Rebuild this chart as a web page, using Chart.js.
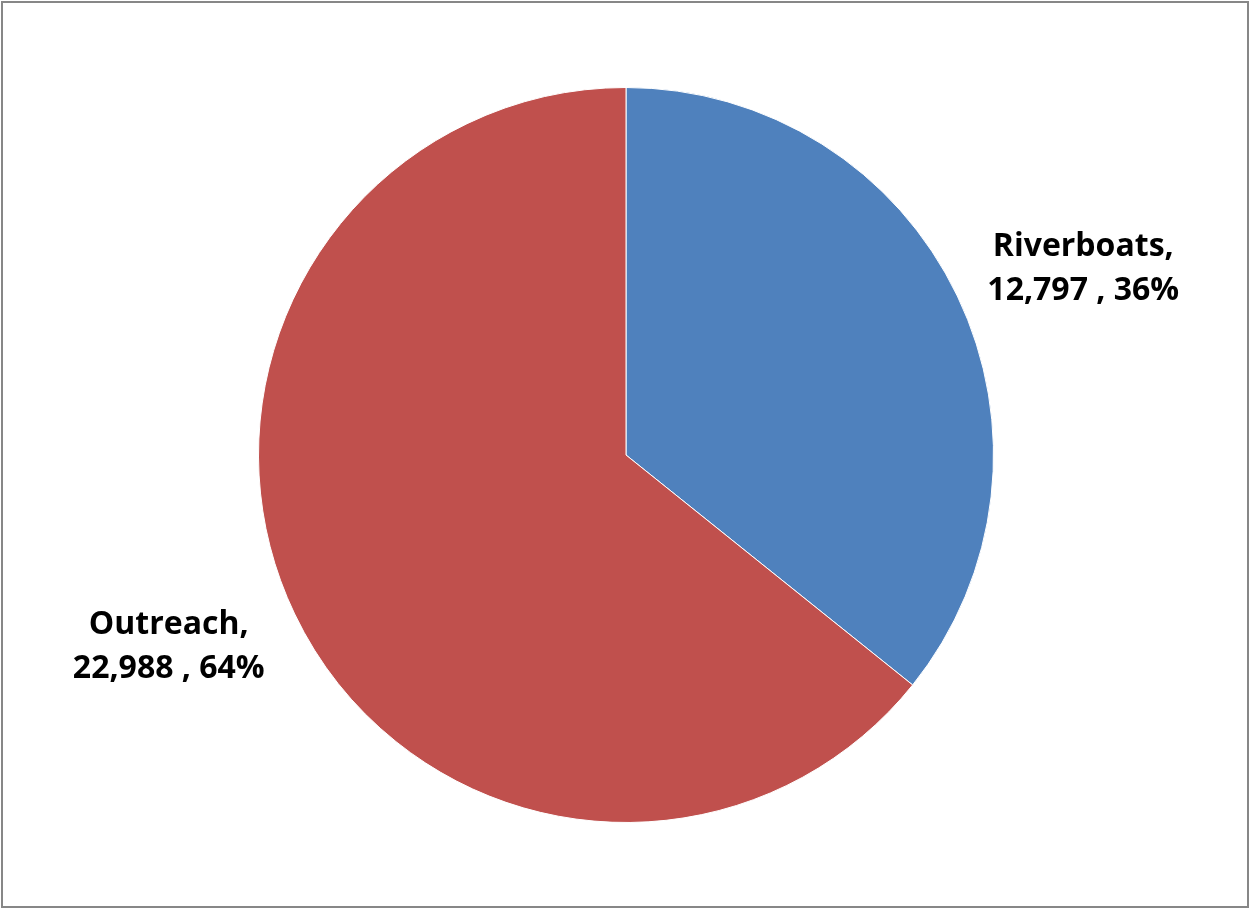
<!DOCTYPE html>
<html>
  <head>
    <title>Riverboats / Outreach</title>
    <script src="https://cdn.jsdelivr.net/npm/chart.js@4.4.0/dist/chart.umd.min.js"></script>
    <style>
      html,body{
        width: 100%;
        height: 100%;
        margin: 0;
        padding: 0;
        background: #fff;
        overflow: hidden;
      }
      #frame{
        position: absolute;
        left: 1px;
        top: 1px;
        width: 1244px;
        height: 903px;
        border: 2px solid #878787;
      }
      #myChart{
        position: absolute;
        left: 0;
        top: 0;
      }
    </style>
  </head>
  <body>
    <div id="frame"></div>
    <canvas id="myChart" width="1250" height="909"></canvas>

    <script>
      const categorias = ['Riverboats', 'Outreach']
      const valores = [12797, 22988]
      const cores = ['#4F81BD', '#C0504D']

      // rótulos fora da fatia: "Nome," / "valor , pct%"
      const rotulosPlugin = {
        id: 'rotulos',
        afterDatasetsDraw(chart, args, opts){
          const ctx = chart.ctx
          const meta = chart.getDatasetMeta(0)
          const total = valores.reduce((a, b) => a + b, 0)
          ctx.save()
          ctx.font = opts.font
          ctx.fillStyle = '#000'
          ctx.textAlign = 'center'
          ctx.textBaseline = 'middle'
          meta.data.forEach((arc, i) => {
            const meio = (arc.startAngle + arc.endAngle) / 2
            const x = arc.x + Math.cos(meio) * arc.outerRadius * opts.kx
            const y = arc.y + Math.sin(meio) * arc.outerRadius * opts.ky + opts.dy
            const pct = Math.round(valores[i] / total * 100)
            const linhas = [categorias[i] + ',', valores[i].toLocaleString('en-US') + ' , ' + pct + '%']
            linhas.forEach((t, k) => {
              ctx.fillText(t, x, y + (k - 0.5) * opts.lineHeight)
            })
          })
          ctx.restore()
        }
      }

      let ctx = document.getElementById('myChart').getContext('2d')
      let myChart = new Chart(ctx, {
        type: 'pie',
        data: {
          labels: categorias,
          datasets: [{
            data: valores,
            backgroundColor: cores,
            borderColor: '#ffffff',
            borderWidth: 1,
            hoverOffset: 0,
          }]
        },
        options: {
          responsive: false,
          animation: false,
          events: [],
          layout: {
            padding: {left: 258, right: 256, top: 87, bottom: 86}
          },
          plugins: {
            legend: {display: false},
            tooltip: {enabled: false},
            rotulos: {
              font: 'bold 32px "Open Sans", sans-serif',
              lineHeight: 44,
              kx: 1.38,
              ky: 1.19,
              dy: 3,
            }
          }
        },
        plugins: [rotulosPlugin]
      })
    </script>
  </body>
</html>
